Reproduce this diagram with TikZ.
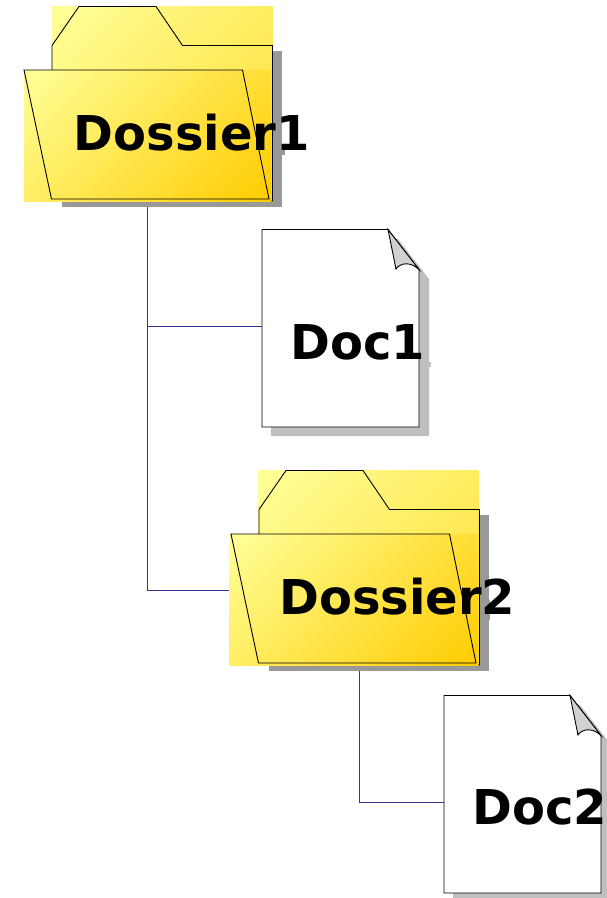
\documentclass[tikz,border=0pt]{standalone}
\usepackage{fontspec}
\setmainfont{DejaVu Sans}
\definecolor{foldlight}{HTML}{FFFF99}
\definecolor{folddark}{HTML}{FFCC00}
\definecolor{linkblue}{HTML}{333399}
\pgfdeclareverticalshading{glowramp}{100bp}{color(0bp)=(folddark); color(32.32bp)=(folddark); color(67.68bp)=(foldlight); color(100bp)=(foldlight)}
\tikzset{
  outline/.style={draw=black, line width=0.9pt, line join=miter},
  glow/.style={shading=glowramp, shading angle=45},
  link/.style={draw=linkblue, line width=1pt},
  name text/.style={anchor=base west, inner sep=0pt, font=\bfseries\fontsize{48}{58}\selectfont},
  port/.style={inner sep=0pt, outer sep=0pt},
  pics/dossier/.style={code={
    \fill[color=black!40] (61.5,51) -- (282,51) -- (282,207) -- (61.5,207) -- cycle;
    \begin{scope}
      \clip (52+#1/2,6) rectangle (272.5+#1/4,201);
      \shade[glow] (-98,-144) rectangle (502,456);
    \end{scope}
    \draw[outline] (52,201) -- (52,45.5) -- (79,6.5) -- (156,6.5) -- (182.5,45.5) -- (272.5,45.5) -- (272.5,201) -- cycle;
    \begin{scope}
      \clip (24+#1,70) rectangle (271,201);
      \shade[glow] (-41.5,-53.5) rectangle (336.5,324.5);
    \end{scope}
    \draw[outline] (24,70) -- (242.5,70) -- (269,199) -- (51.5,199) -- cycle;
  }},
  paper/.pic={
    \fill[color=black!25] (271,239) -- (398,239) -- (429,279) -- (429,436) -- (271,436) -- cycle;
    \draw[outline, fill=white] (262,229.5) -- (388,229.5) -- (419,269.5) -- (419,427) -- (262,427) -- cycle;
    \draw[outline, fill=black!18] (388,229.5) -- (396,269) .. controls (400,263) and (410,261) .. (419,269.5) -- cycle;
  },
}
\begin{document}
\begin{tikzpicture}[x=1pt, y=-1pt]
  \useasboundingbox (0,0) rectangle (607,898);
  \pic at (0,0) {dossier=0};
  \pic at (182,466) {paper};
  \pic at (0,0) {paper};
  \pic at (207,464) {dossier=-2};
  \fill[color=black!40] (282,150) rectangle (284.5,155);
  \fill[color=black!40] (488,600) rectangle (490,620);
  \fill[color=black!25] (429,362) rectangle (431,367);
  \node[port, minimum width=246pt, minimum height=137pt] (dossier1) at (147.5,138.5) {};
  \node[port, minimum width=157pt, minimum height=197.5pt] (doc1) at (340.5,328.25) {};
  \node[port, minimum width=257pt, minimum height=137pt] (dossier2) at (359,602.5) {};
  \node[port, minimum width=158pt, minimum height=198pt] (doc2) at (523,794) {};
  \draw[link]
  (dossier1.south) |- ([yshift=1.75pt]doc1.west)
  (dossier1.south) |- ([xshift=-2pt, yshift=12pt]dossier2.west)
  (dossier2.south) |- ([yshift=-8.5pt]doc2.west)
  ;
  \node[name text] (dossier1name) at (73.5,150) {Dossier1};
  \node[name text] (doc1name) at (290.5,359) {Doc1};
  \node[name text] (dossier2name) at (279,614) {Dossier2};
  \node[name text] (doc2name) at (472.5,824) {Doc2};
\end{tikzpicture}
\end{document}
